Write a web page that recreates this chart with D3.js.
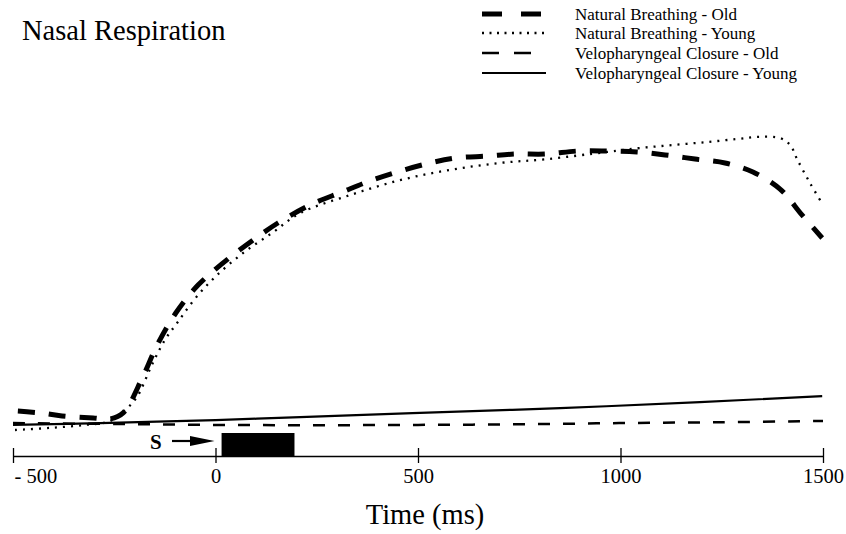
<!DOCTYPE html>
<html>
<head>
<meta charset="utf-8">
<script src="https://cdn.jsdelivr.net/npm/d3@7"></script>
<style>
  body { margin: 0; background: #fff; }
  svg { display: block; font-family: "Liberation Serif", "Times New Roman", serif; }
</style>
</head>
<body>
<svg id="chart" width="846" height="534"></svg>
<script>
// 시간축 눈금 (ms)
const timeTicks = [-500, 0, 500, 1000, 1500];

// Natural Breathing - Old
const nbOldTime = [-488, -433, -379, -302, -260, -228, -181, -144, -98, -43, 28, 93, 154, 238, 312, 381, 456, 530, 596, 670, 740, 814, 895, 967, 1041, 1110, 1184, 1258, 1327, 1394, 1448, 1498];
const nbOldFlow = [6.3, 5.7, 4.7, 4.0, 3.7, 5.7, 17.3, 28.3, 39, 48.3, 56.7, 63.3, 69, 75.3, 79.3, 83, 86.3, 89, 90.7, 91.3, 92, 92, 93, 93, 92.7, 91.7, 90.3, 89, 86, 80.3, 71.7, 64];

// Natural Breathing - Young
const nbYoungTime = [-495, -409, -322, -260, -223, -194, -157, -125, -93, -51, -1, 68, 140, 209, 332, 456, 579, 702, 819, 967, 1048, 1130, 1214, 1288, 1340, 1394, 1419, 1436, 1468, 1500];
const nbYoungFlow = [0, 0.7, 1.7, 3, 6.7, 11, 21.7, 30, 36, 43.7, 51, 59, 65.7, 72.3, 78.3, 83.3, 86.7, 89, 90.3, 92.7, 94, 95, 96, 97, 97.7, 97.3, 95, 90.3, 82.3, 75];

// Velopharyngeal Closure - Old
const vcOldTime = [-500, -250, 0, 250, 500, 750, 1000, 1250, 1500];
const vcOldFlow = [2.3, 2.0, 1.7, 1.6, 1.7, 1.9, 2.3, 2.6, 3.0];

// Velopharyngeal Closure - Young
const vcYoungTime = [-500, -285, 0, 209, 505, 851, 1196, 1498];
const vcYoungFlow = [1.7, 2.3, 3.3, 4.3, 5.7, 7.3, 9.3, 11.3];

// 자극 구간 (ms)
const stimulus = [15, 195];

const series = [
    { name: "Natural Breathing - Old", time: nbOldTime, flow: nbOldFlow, width: 5, dash: "17,14", legendDash: "20,19" },
    { name: "Natural Breathing - Young", time: nbYoungTime, flow: nbYoungFlow, width: 2.3, dash: "2,6", legendDash: "2,5.5" },
    { name: "Velopharyngeal Closure - Old", time: vcOldTime, flow: vcOldFlow, width: 2.5, dash: "12,13", legendDash: "17,15" },
    { name: "Velopharyngeal Closure - Young", time: vcYoungTime, flow: vcYoungFlow, width: 2.2, dash: null, legendDash: null }
];

const svg = d3.select("#chart");

const x = d3.scaleLinear().domain([-500, 1500]).range([13, 823]);
const y = d3.scaleLinear().domain([0, 100]).range([430, 130]);
const axisY = 456;

// 제목
svg.append("text")
    .attr("x", 22)
    .attr("y", 40)
    .attr("font-size", 28.5)
    .text("Nasal Respiration");

// 곡선
const line = d3.line()
    .x(d => x(d[0]))
    .y(d => y(d[1]))
    .curve(d3.curveCatmullRom);

series.forEach(s => {
    const pts = s.time.map((t, i) => [t, s.flow[i]]);
    svg.append("path")
        .datum(pts)
        .attr("fill", "none")
        .attr("stroke", "#000")
        .attr("stroke-width", s.width)
        .attr("stroke-dasharray", s.dash)
        .attr("d", line);
});

// 범례
const legend = svg.append("g").attr("class", "legend");
const legendRows = [14, 33, 53, 73];
series.forEach((s, i) => {
    legend.append("line")
        .attr("x1", 482).attr("x2", 546)
        .attr("y1", legendRows[i]).attr("y2", legendRows[i])
        .attr("stroke", "#000")
        .attr("stroke-width", s.width)
        .attr("stroke-dasharray", s.legendDash);
    legend.append("text")
        .attr("x", 575)
        .attr("y", legendRows[i] + 6)
        .attr("font-size", 17)
        .text(s.name);
});

// 시간축
const axis = d3.axisBottom(x)
    .tickValues(timeTicks)
    .tickSizeOuter(0)
    .tickFormat(d => d < 0 ? "- " + Math.abs(d) : d);

const gAxis = svg.append("g")
    .attr("transform", `translate(0,${axisY})`)
    .call(axis);

gAxis.select(".domain").attr("stroke", "#000").attr("stroke-width", 1.3);
gAxis.selectAll(".tick line")
    .attr("y1", -8).attr("y2", 7)
    .attr("stroke", "#000").attr("stroke-width", 1.3);
gAxis.selectAll(".tick text")
    .attr("y", 27)
    .attr("dy", null)
    .attr("font-family", "Liberation Serif, serif")
    .attr("font-size", 20.5)
    .attr("fill", "#000")
    .attr("text-anchor", d => d < 0 ? "start" : "middle")
    .attr("dx", d => d < 0 ? 1 : 0);

svg.append("text")
    .attr("x", 425)
    .attr("y", 524)
    .attr("text-anchor", "middle")
    .attr("font-size", 28.5)
    .text("Time (ms)");

// 자극 표시
svg.append("rect")
    .attr("x", x(stimulus[0]))
    .attr("y", 433)
    .attr("width", x(stimulus[1]) - x(stimulus[0]))
    .attr("height", axisY - 433)
    .attr("fill", "#000");

svg.append("text")
    .attr("x", 150)
    .attr("y", 449)
    .attr("font-size", 21)
    .attr("font-weight", "bold")
    .text("S");

svg.append("line")
    .attr("x1", 172).attr("x2", 195)
    .attr("y1", 441).attr("y2", 441)
    .attr("stroke", "#000").attr("stroke-width", 2.2);

svg.append("path")
    .attr("d", d3.line()([[190, 436], [x(0) - 1, 441], [190, 446]]) + "Z")
    .attr("fill", "#000");
</script>
</body>
</html>
